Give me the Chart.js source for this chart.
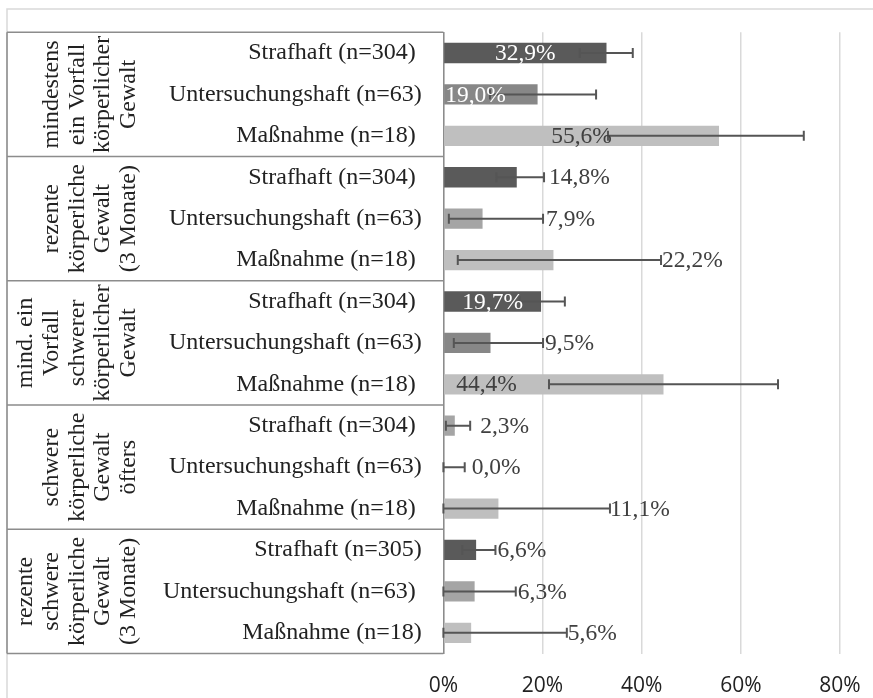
<!DOCTYPE html>
<html><head><meta charset="utf-8">
<script src="https://cdn.jsdelivr.net/npm/chart.js@4.4.1/dist/chart.umd.min.js"></script>
<style>html,body{margin:0;padding:0;background:#fff;overflow:hidden}#wrap{width:873px;height:698px;position:relative}</style>
</head><body><div id="wrap"><canvas id="c" width="873" height="698"></canvas></div>
<script>
// ---- data ----
const groupLabels = [
  ["mindestens", "ein Vorfall", "körperlicher", "Gewalt"],
  ["rezente", "körperliche", "Gewalt", "(3 Monate)"],
  ["mind. ein", "Vorfall", "schwerer", "körperlicher", "Gewalt"],
  ["schwere", "körperliche", "Gewalt", "öfters"],
  ["rezente", "schwere", "körperliche", "Gewalt", "(3 Monate)"]
];
const seriesNames = ["Strafhaft", "Untersuchungshaft", "Maßnahme"];
const sampleSizes = [[304, 63, 18], [304, 63, 18], [304, 63, 18], [304, 63, 18], [305, 63, 18]];
const strafhaft = [32.9, 14.8, 19.7, 2.3, 6.6];
const strafhaftLow = [27.5, 10.7, 15.4, 0.5, 3.8];
const strafhaftHigh = [38.2, 20.3, 24.5, 5.4, 10.5];
const untersuchungshaft = [19.0, 7.9, 9.5, 0.0, 6.3];
const untersuchungshaftLow = [9.4, 1.1, 2.1, 0.0, 0.0];
const untersuchungshaftHigh = [30.8, 20.1, 20.1, 4.3, 14.6];
const massnahme = [55.6, 22.2, 44.4, 11.1, 5.6];
const massnahmeLow = [33.2, 2.9, 21.3, 0.0, 0.0];
const massnahmeHigh = [72.7, 43.9, 67.5, 33.6, 24.9];
const xTickValues = [0, 20, 40, 60, 80];

// ---- styles ----
const DARK = '#5a5a5a', MID = '#878787', MIDL = '#a5a5a5', LIGHT = '#bfbfbf', TXT = '#404040';
const colorsBySeries = [
  [DARK, DARK, DARK, MIDL, DARK],
  [MID, MIDL, MID, MIDL, MIDL],
  [LIGHT, LIGHT, LIGHT, LIGHT, LIGHT]
];
const labelStyle = [
  ['c', 0, '#fff'], ['b', 1, '#fff'], ['c', 0, TXT],
  ['e', 5, TXT], ['e', 3, TXT], ['e', 1, TXT],
  ['c', 0, '#fff'], ['e', 2, TXT], ['b', 12, TXT],
  ['e', 10, TXT], ['e', 7, TXT], ['e', 0, TXT],
  ['e', 2, TXT], ['e', 2, TXT], ['e', 1, TXT]
];
const trailSpace = [1,0,1, 1,0,1, 1,0,1, 1,0,1, 0,1,0];

// ---- build rows ----
const seriesVals = [strafhaft, untersuchungshaft, massnahme];
const seriesLow = [strafhaftLow, untersuchungshaftLow, massnahmeLow];
const seriesHigh = [strafhaftHigh, untersuchungshaftHigh, massnahmeHigh];
const rowLabels = [], rowVals = [], rowLow = [], rowHigh = [], rowColors = [];
for (let g = 0; g < groupLabels.length; g++) {
  for (let s = 0; s < seriesNames.length; s++) {
    rowLabels.push(seriesNames[s] + ' (n=' + sampleSizes[g][s] + ')');
    rowVals.push(seriesVals[s][g]);
    rowLow.push(seriesLow[s][g]);
    rowHigh.push(seriesHigh[s][g]);
    rowColors.push(colorsBySeries[s][g]);
  }
}
const fmt = v => v.toFixed(1).replace('.', ',') + '%';

const SERIF = "'Liberation Serif', 'Times New Roman', serif";
const FRAME_X = 7;

const decorPlugin = {
  id: 'decor',
  beforeDraw(chart) {
    const ctx = chart.ctx;
    ctx.save();
    ctx.fillStyle = '#fff';
    ctx.fillRect(0, 0, chart.width, chart.height);
    ctx.strokeStyle = '#d9d9d9';
    ctx.lineWidth = 1.5;
    ctx.beginPath();
    ctx.moveTo(FRAME_X, chart.height);
    ctx.lineTo(FRAME_X, 9);
    ctx.lineTo(chart.width, 9);
    ctx.stroke();
    ctx.restore();
  },
  afterDatasetsDraw(chart) {
    const ctx = chart.ctx, xs = chart.scales.x, meta = chart.getDatasetMeta(0);
    ctx.save();
    ctx.strokeStyle = '#555555';
    ctx.lineWidth = 2;
    meta.data.forEach((bar, i) => {
      const x1 = xs.getPixelForValue(rowLow[i]), x2 = xs.getPixelForValue(rowHigh[i]), y = bar.y;
      ctx.beginPath();
      ctx.moveTo(x1, y); ctx.lineTo(x2, y);
      ctx.moveTo(x1, y - 5); ctx.lineTo(x1, y + 5);
      ctx.moveTo(x2, y - 5); ctx.lineTo(x2, y + 5);
      ctx.stroke();
    });
    ctx.font = '23.5px ' + SERIF;
    ctx.textBaseline = 'middle';
    meta.data.forEach((bar, i) => {
      const [mode, dx, col] = labelStyle[i];
      let x, align = 'left';
      if (mode === 'c') { x = (bar.base + bar.x) / 2; align = 'center'; }
      else if (mode === 'b') { x = bar.base + dx; }
      else { x = xs.getPixelForValue(rowHigh[i]) + dx; }
      ctx.fillStyle = col;
      ctx.textAlign = align;
      ctx.fillText(fmt(rowVals[i]), x, bar.y + 1);
    });
    ctx.restore();
  },
  afterDraw(chart) {
    const ctx = chart.ctx, ys = chart.scales.y, area = chart.chartArea;
    ctx.save();
    ctx.strokeStyle = '#8c8c8c';
    ctx.lineWidth = 1.5;
    ctx.beginPath();
    ctx.moveTo(FRAME_X, area.top); ctx.lineTo(FRAME_X, area.bottom);
    const n = seriesNames.length;
    for (let g = 0; g <= groupLabels.length; g++) {
      let y;
      if (g === 0) y = area.top;
      else if (g === groupLabels.length) y = area.bottom;
      else y = (ys.getPixelForValue(g * n - 1) + ys.getPixelForValue(g * n)) / 2;
      ctx.moveTo(FRAME_X, y); ctx.lineTo(area.left, y);
    }
    ctx.stroke();
    ctx.fillStyle = '#222';
    ctx.font = '24px ' + SERIF;
    ctx.textAlign = 'center';
    ctx.textBaseline = 'middle';
    const pitch = 25.8, lastX = 129;
    groupLabels.forEach((lines, g) => {
      const yc = (ys.getPixelForValue(g * n) + ys.getPixelForValue(g * n + n - 1)) / 2;
      lines.forEach((ln, k) => {
        const x = lastX - (lines.length - 1 - k) * pitch;
        ctx.save();
        ctx.translate(x, yc);
        ctx.rotate(-Math.PI / 2);
        ctx.fillText(ln, 0, 0);
        ctx.restore();
      });
    });
    ctx.restore();
  }
};

new Chart(document.getElementById('c'), {
  type: 'bar',
  data: {
    labels: rowLabels,
    datasets: [{
      data: rowVals,
      backgroundColor: rowColors,
      borderWidth: 0,
      barPercentage: 0.49,
      categoryPercentage: 1
    }]
  },
  options: {
    indexAxis: 'y',
    responsive: false,
    animation: false,
    devicePixelRatio: 1,
    layout: { padding: { top: 32.3, left: 0, right: 0, bottom: 0 } },
    plugins: { legend: { display: false }, tooltip: { enabled: false } },
    scales: {
      x: {
        type: 'linear',
        min: 0,
        max: 86.66,
        afterBuildTicks: s => { s.ticks = xTickValues.map(v => ({ value: v })); },
        afterFit: s => { s.height = 44.5; s.paddingLeft = 0; s.paddingRight = 0; },
        ticks: {
          callback: v => v + '%',
          color: '#222',
          font: { family: "'Open Sans', sans-serif", size: 21 },
          padding: 20,
          maxRotation: 0
        },
        grid: { color: '#d9d9d9', lineWidth: 1.5, drawTicks: false },
        border: { display: false }
      },
      y: {
        type: 'category',
        afterFit: s => { s.width = 443.4; s.paddingTop = 0; s.paddingBottom = 0; },
        ticks: {
          autoSkip: false,
          callback: (v, i) => rowLabels[i] + (trailSpace[i] ? ' ' : ''),
          color: '#222',
          font: { family: SERIF, size: 24 },
          padding: 21.7
        },
        grid: { display: false, drawTicks: false },
        border: { display: true, color: '#8c8c8c', width: 1.5 }
      }
    }
  },
  plugins: [decorPlugin]
});
</script>
</body></html>
